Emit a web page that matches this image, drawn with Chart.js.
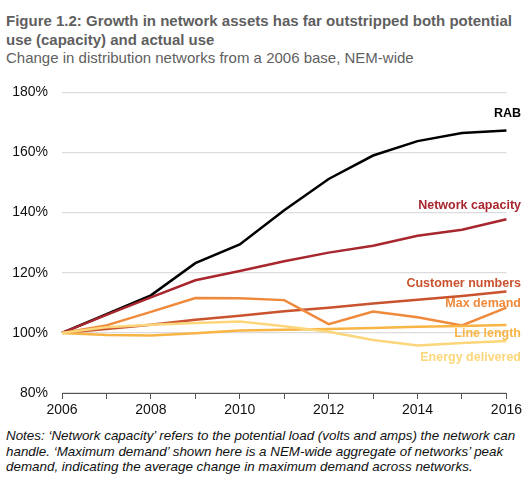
<!DOCTYPE html>
<html>
<head>
<meta charset="utf-8">
<script src="https://cdn.jsdelivr.net/npm/chart.js@4.4.1/dist/chart.umd.min.js"></script>
<style>
  html, body { margin: 0; padding: 0; background: #fff; }
  body { width: 525px; height: 477px; position: relative; overflow: hidden; font-family: "Liberation Sans", Arial, sans-serif; }
  #title { position: absolute; left: 6px; top: 11px; width: 519px; font-size: 15px; font-weight: bold; color: #5f5f5f; line-height: 19px; white-space: nowrap; }
  #subtitle { position: absolute; left: 6px; top: 49px; font-size: 15px; color: #5f5f5f; line-height: 18px; white-space: nowrap; }
  #notes { position: absolute; left: 6px; top: 428px; width: 519px; font-size: 13.4px; font-style: italic; color: #111; line-height: 15.5px; white-space: nowrap; }
  #plot-wrap { position: absolute; left: 0; top: 70px; width: 525px; height: 355px; }
</style>
</head>
<body>
<div id="title">Figure 1.2: Growth in network assets has far outstripped both potential<br>use (capacity) and actual use</div>
<div id="subtitle">Change in distribution networks from a 2006 base, NEM-wide</div>
<div id="plot-wrap"><canvas id="growth-plot"></canvas></div>
<div id="notes">Notes: ‘Network capacity’ refers to the potential load (volts and amps) the network can<br>handle. ‘Maximum demand’ shown here is a NEM-wide aggregate of networks’ peak<br>demand, indicating the average change in maximum demand across networks.</div>

<script>
let years = ['2006', '2007', '2008', '2009', '2010', '2011', '2012', '2013', '2014', '2015', '2016']
let y_ticks = [80, 100, 120, 140, 160, 180]

// index values, 2006 = 100
let rab              = [100, 106.2, 112.5, 123.2, 129.4, 140.8, 151.2, 159.0, 163.8, 166.5, 167.3]
let network_capacity = [100, 106.0, 111.8, 117.5, 120.6, 123.8, 126.7, 129.0, 132.3, 134.3, 137.8]
let customer_numbers = [100, 101.3, 102.7, 104.4, 105.7, 107.2, 108.4, 109.8, 111.0, 112.3, 113.8]
let max_demand       = [100, 102.5, 107.0, 111.6, 111.5, 110.9, 102.9, 107.1, 105.2, 102.5, 108.4]
let line_length      = [100, 99.3, 99.1, 99.9, 100.8, 101.0, 101.3, 101.6, 102.0, 102.3, 102.6]
let energy_delivered = [100, 101.9, 102.7, 103.3, 103.8, 102.2, 100.4, 97.6, 95.8, 96.6, 97.3]

let series_names = ['RAB', 'Network capacity', 'Customer numbers', 'Max demand', 'Line length', 'Energy delivered']
let series_values = [rab, network_capacity, customer_numbers, max_demand, line_length, energy_delivered]
let series_colours = ['#000000', '#a8262e', '#c9532f', '#ef8a3c', '#f8b546', '#fcd67a']
// vertical nudge (px) of each end label from the last point
let label_nudge = [-17, -14, -8, -4, 8, 17]

let font_family = '"Liberation Sans", Arial, sans-serif'

function g_define_chart_defaults() {
    Chart.defaults.font.family = font_family
    Chart.defaults.font.size = 14
    Chart.defaults.color = '#222'
    Chart.defaults.responsive = true
    Chart.defaults.maintainAspectRatio = false
    Chart.defaults.animation = false
    Chart.defaults.plugins.legend.display = false
    Chart.defaults.plugins.tooltip.enabled = false
}

// series names written at the right-hand end of each line
let end_labels = {
    id: 'end_labels',
    afterDatasetsDraw(chart) {
        let ctx = chart.ctx
        ctx.save()
        ctx.font = 'bold 12.5px ' + font_family
        ctx.textAlign = 'right'
        ctx.textBaseline = 'middle'
        chart.data.datasets.forEach((ds, i) => {
            let pts = chart.getDatasetMeta(i).data
            let last = pts[pts.length - 1]
            ctx.fillStyle = ds.borderColor
            ctx.fillText(ds.label, 521, last.y + label_nudge[i])
        })
        ctx.restore()
    }
}

function g_create_chart() {
    let growth_chart_ctx = document.getElementById('growth-plot')
    let datasets = series_names.map((name, i) => ({
        label: name,
        data: series_values[i],
        borderColor: series_colours[i],
        borderWidth: 2.5,
        pointRadius: 0,
        tension: 0,
        fill: false,
    })).reverse()
    // reversed so the dark lines sit on top; labels keep their own nudge
    label_nudge = label_nudge.slice().reverse()

    new Chart(growth_chart_ctx, {
        type: 'line',
        data: { labels: years, datasets: datasets },
        options: {
            layout: { padding: { top: 12, right: 18, left: 0, bottom: 0 } },
            scales: {
                x: {
                    type: 'category',
                    offset: false,
                    grid: { drawOnChartArea: false, drawTicks: true, tickLength: 6, color: '#555', lineWidth: 1 },
                    border: { display: true, color: '#555', width: 1 },
                    ticks: {
                        autoSkip: false,
                        maxRotation: 0,
                        padding: 3,
                        color: '#111',
                        font: { size: 14 },
                        callback: (v, i) => (i % 2 === 0 ? years[i] : ''),
                    },
                    afterFit: (scale) => { scale.height = 32 },
                },
                y: {
                    min: y_ticks[0],
                    max: y_ticks[y_ticks.length - 1],
                    afterBuildTicks: (scale) => { scale.ticks = y_ticks.map(v => ({ value: v })) },
                    grid: { drawTicks: false, color: '#dcdcdc', lineWidth: 1.3 },
                    border: { display: false },
                    ticks: {
                        padding: 14,
                        color: '#111',
                        font: { size: 14 },
                        callback: (v) => v + '%',
                    },
                    afterFit: (scale) => { scale.width = 62 },
                },
            },
        },
        plugins: [end_labels],
    })
}

document.addEventListener('DOMContentLoaded', () => {
    g_define_chart_defaults()
    g_create_chart()
})
</script>
</body>
</html>
